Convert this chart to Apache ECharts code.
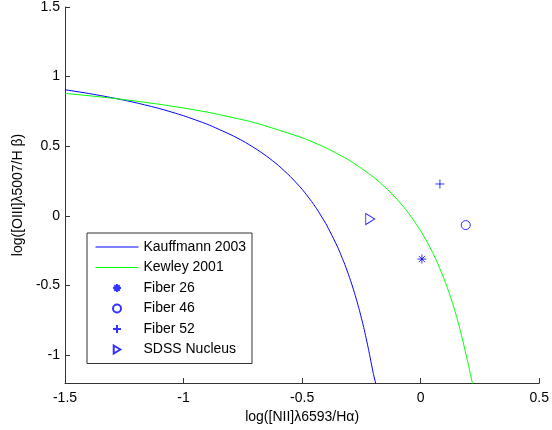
<!DOCTYPE html>
<html><head><meta charset="utf-8">
<script src="https://cdn.jsdelivr.net/npm/echarts@6/dist/echarts.min.js"></script>
<style>html,body{margin:0;padding:0;background:#fff}#c{width:552px;height:430px}</style>
</head><body><div id="c"></div>
<script>
var kauffmannX = [-1.5,-1.4,-1.3,-1.2,-1.1,-1.0,-0.9,-0.8,-0.75,-0.7,-0.65,-0.6,-0.55,-0.5,-0.45,-0.4,-0.35,-0.32,-0.3,-0.28,-0.26,-0.24,-0.22,-0.2,-0.188];
var kauffmannY = [0.906,0.879,0.848,0.812,0.770,0.719,0.658,0.582,0.538,0.487,0.429,0.362,0.283,0.191,0.080,-0.056,-0.225,-0.349,-0.443,-0.548,-0.668,-0.803,-0.959,-1.130,-1.215];
var kewleyX = [-1.5,-1.3,-1.1,-0.9,-0.7,-0.5,-0.4,-0.3,-0.2,-0.15,-0.1,-0.05,0,0.025,0.05,0.07,0.1,0.11,0.12,0.13,0.14,0.15,0.16,0.17,0.18,0.19,0.2,0.205,0.21,0.22];
var kewleyY = [0.880,0.845,0.801,0.745,0.669,0.561,0.489,0.398,0.280,0.206,0.120,0.017,-0.108,-0.181,-0.262,-0.335,-0.459,-0.504,-0.553,-0.604,-0.658,-0.716,-0.778,-0.843,-0.913,-0.989,-1.060,-1.100,-1.140,-1.215];
var fiber26 = [0.005, -0.31];
var fiber46 = [0.19, -0.066];
var fiber52 = [0.081, 0.229];
var sdssNucleus = [-0.213, -0.023];
var xTicks = [-1.5, -1, -0.5, 0, 0.5];
var yTicks = [-1, -0.5, 0, 0.5, 1, 1.5];

function zip(a, b) { return a.map(function (v, i) { return [v, b[i]]; }); }

var FONT = 'Liberation Sans, Arial, sans-serif';
var BLUE = '#0000ff';
var GREEN = '#00ff00';
var starPath = 'path://M5 0L5 10M0 5L10 5M1.5 1.5L8.5 8.5M8.5 1.5L1.5 8.5';
var plusPath = 'path://M5 0L5 10M0 5L10 5';
var triPath = 'path://M0 0L9 5.5L0 11Z';

var chart = echarts.init(document.getElementById('c'), null, {renderer: 'canvas'});
function markerStyle() { return {color: 'rgba(0,0,0,0)', borderColor: BLUE, borderWidth: 1}; }
var hiddenSym = {color: 'rgba(0,0,0,0)', borderWidth: 0, opacity: 0};

chart.setOption({
  animation: false,
  backgroundColor: '#fff',
  grid: {left: 65, right: 10, top: 7, bottom: 47},
  xAxis: {
    type: 'value', min: -1.5, max: 0.5, interval: 0.5,
    name: 'log([NII]\u03bb6593/H\u03b1)', nameLocation: 'middle', nameGap: 24,
    nameTextStyle: {fontFamily: FONT, fontSize: 14, color: '#000'},
    axisLine: {show: true, onZero: false, lineStyle: {color: '#333', width: 1}},
    axisTick: {show: true, inside: true, length: 5, lineStyle: {color: '#333'}, customValues: xTicks},
    axisLabel: {fontFamily: FONT, fontSize: 14, color: '#000', margin: 8, customValues: xTicks,
      formatter: function (v) { return String(v); }},
    splitLine: {show: false}
  },
  yAxis: {
    type: 'value', min: -1.2, max: 1.5,
    name: 'log([OIII]\u03bb5007/H \u03b2)', nameLocation: 'middle', nameGap: 38, nameRotate: 90,
    nameTextStyle: {fontFamily: FONT, fontSize: 14, color: '#000'},
    axisLine: {show: true, onZero: false, lineStyle: {color: '#333', width: 1}},
    axisTick: {show: true, inside: true, length: 5, lineStyle: {color: '#333'}, customValues: yTicks},
    axisLabel: {fontFamily: FONT, fontSize: 14, color: '#000', margin: 5, customValues: yTicks,
      formatter: function (v) { return String(v); }},
    splitLine: {show: false}
  },
  legend: {
    orient: 'vertical', left: 87, top: 233,
    padding: [7, 6, 7, 8],
    itemWidth: 43, itemHeight: 8, itemGap: 6.5,
    backgroundColor: '#fff', borderColor: '#333', borderWidth: 1, borderRadius: 0,
    textStyle: {fontFamily: FONT, fontSize: 14, color: '#000', lineHeight: 14},
    data: [
      {name: 'Kauffmann 2003', itemStyle: hiddenSym, lineStyle: {width: 1, color: BLUE}},
      {name: 'Kewley 2001', itemStyle: hiddenSym, lineStyle: {width: 1, color: GREEN}},
      'Fiber 26', 'Fiber 46', 'Fiber 52', 'SDSS Nucleus'
    ]
  },
  series: [
    {name: 'Kauffmann 2003', type: 'line', data: zip(kauffmannX, kauffmannY), symbol: 'none',
      smooth: 0.2, lineStyle: {color: BLUE, width: 1}, itemStyle: {color: BLUE}},
    {name: 'Kewley 2001', type: 'line', data: zip(kewleyX, kewleyY), symbol: 'none',
      smooth: 0.2, lineStyle: {color: GREEN, width: 1}, itemStyle: {color: GREEN}},
    {name: 'Fiber 26', type: 'scatter', data: [fiber26], symbol: starPath, symbolSize: 9, itemStyle: markerStyle()},
    {name: 'Fiber 46', type: 'scatter', data: [fiber46], symbol: 'circle', symbolSize: 9, itemStyle: markerStyle()},
    {name: 'Fiber 52', type: 'scatter', data: [fiber52], symbol: plusPath, symbolSize: 9, itemStyle: markerStyle()},
    {name: 'SDSS Nucleus', type: 'scatter', data: [sdssNucleus], symbol: triPath, symbolSize: [9, 11], itemStyle: markerStyle()}
  ]
});
</script></body></html>
